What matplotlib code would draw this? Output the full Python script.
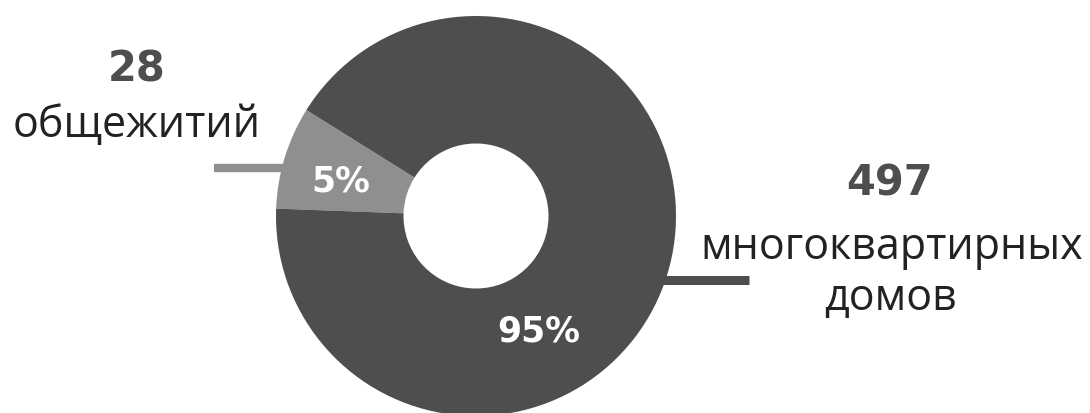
import matplotlib
matplotlib.use("Agg")
import matplotlib.pyplot as plt

# Data
categories = ["общежитий", "многоквартирных\nдомов"]
counts = ["28", "497"]
pct_labels = ["5%", "95%"]
# Wedge shares as drawn in the picture (the small slice is drawn wider than 5%)
drawn_shares = [8.3, 91.7]
colors = ["#8f8f8f", "#4e4e4e"]

W, H = 1090, 414
fig = plt.figure(figsize=(W / 100, H / 100), dpi=100)
ax = fig.add_axes([0, 0, 1, 1])

cx, cy, R = 476, H - 217, 200
hole = 72.5

# leader lines (behind the donut)
ax.plot([214, 290], [H - 169, H - 169], color=colors[0], lw=6, solid_capstyle="butt", zorder=1)
ax.plot([650, 749], [H - 281, H - 281], color=colors[1], lw=6.5, solid_capstyle="butt", zorder=1)

wedges, _ = ax.pie(drawn_shares, colors=colors, startangle=148, counterclock=True,
                   center=(cx, cy), radius=R,
                   wedgeprops=dict(width=R - hole, linewidth=0), frame=True)
for w in wedges:
    w.set_zorder(2)
ax.set_xlim(0, W)
ax.set_ylim(0, H)
ax.set_aspect("equal")
ax.axis("off")

bold_font = "DejaVu Sans"
font = "Open Sans"
# percentages
ax.text(341, H - 181, pct_labels[0], color="white", fontsize=25, fontweight="bold",
        family=bold_font, ha="center", va="center", zorder=3)
ax.text(539, H - 332, pct_labels[1], color="white", fontsize=25, fontweight="bold",
        family=bold_font, ha="center", va="center", zorder=3)

# labels
ax.text(137, H - 69, counts[0], color="#4e4e4e", fontsize=30, fontweight="bold",
        family=bold_font, ha="center", va="center")
ax.text(137, H - 126, categories[0], color="#222222", fontsize=31,
        family=font, ha="center", va="center")
ax.text(890, H - 184, counts[1], color="#4e4e4e", fontsize=30, fontweight="bold",
        family=bold_font, ha="center", va="center")
ax.text(892, H - 248, "многоквартирных", color="#222222", fontsize=31,
        family=font, ha="center", va="center")
ax.text(890, H - 299, "домов", color="#222222", fontsize=31,
        family=font, ha="center", va="center")

fig.savefig("out.png", dpi=100, facecolor="white")
